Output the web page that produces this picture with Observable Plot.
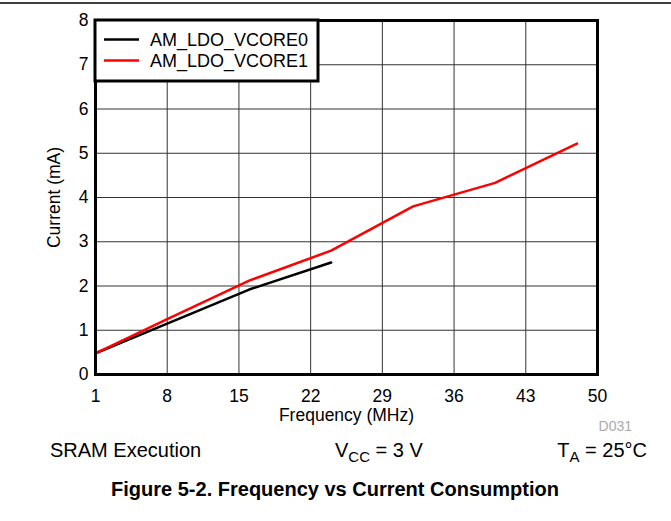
<!DOCTYPE html>
<html>
<head>
<meta charset="utf-8">
<script src="https://cdn.jsdelivr.net/npm/d3@7"></script>
<script src="https://cdn.jsdelivr.net/npm/@observablehq/plot@0.6"></script>
<style>
  html, body { margin: 0; padding: 0; background: #fff; }
  #chart svg { display: block; }
</style>
</head>
<body>
<div id="chart"></div>
<script>
// Data
const freqVcore0 = [1, 8, 16, 24];
const currentVcore0 = [0.48, 1.15, 1.92, 2.53];
const freqVcore1 = [1, 8, 16, 24, 32, 40, 48];
const currentVcore1 = [0.48, 1.25, 2.12, 2.80, 3.80, 4.33, 5.22];
const seriesNames = ["AM_LDO_VCORE0", "AM_LDO_VCORE1"];
const seriesColors = ["#000000", "#ff0000"];
const xTicks = [1, 8, 15, 22, 29, 36, 43, 50];
const yTicks = [0, 1, 2, 3, 4, 5, 6, 7, 8];

const rows = [
  ...freqVcore0.map((f, i) => ({series: seriesNames[0], freq: f, current: currentVcore0[i]})),
  ...freqVcore1.map((f, i) => ({series: seriesNames[1], freq: f, current: currentVcore1[i]}))
];

const W = 671, H = 521;
const font = "'Liberation Sans', Arial, Helvetica, sans-serif";

const chart = Plot.plot({
  width: W,
  height: H,
  marginLeft: 95,
  marginRight: 74,
  marginTop: 20,
  marginBottom: 147,
  style: {fontFamily: font, fontSize: "18px", color: "#000", background: "#fff"},
  x: {domain: [1, 50]},
  y: {domain: [0, 8]},
  color: {domain: seriesNames, range: seriesColors},
  marks: [
    Plot.gridX(xTicks, {stroke: "#333", strokeOpacity: 1, strokeWidth: 1}),
    Plot.gridY(yTicks, {stroke: "#333", strokeOpacity: 1, strokeWidth: 1}),
    Plot.axisX(xTicks, {tickSize: 0, tickPadding: 15, fontSize: 17.5, label: "Frequency (MHz)", labelAnchor: "center", labelOffset: 46, labelArrow: "none"}),
    Plot.axisY(yTicks, {tickSize: 0, tickPadding: 7, fontSize: 17.5, label: "Current (mA)", labelAnchor: "center", labelOffset: 48, labelArrow: "none"}),
    Plot.line(rows, {x: "freq", y: "current", z: "series", stroke: "series", strokeWidth: 2.5}),
    Plot.frame({stroke: "#000", strokeWidth: 3})
  ]
});

document.getElementById("chart").append(chart);

const svg = d3.select(chart);

// Top horizontal rule
svg.append("line").attr("x1", 0).attr("x2", W).attr("y1", 3).attr("y2", 3)
  .attr("stroke", "#000").attr("stroke-width", 1.5);

// Legend box
const lg = svg.append("g").attr("font-family", font).attr("font-size", 18).attr("text-anchor", "start");
lg.append("rect").attr("x", 95).attr("y", 20).attr("width", 223).attr("height", 61)
  .attr("fill", "#fff").attr("stroke", "#000").attr("stroke-width", 3);
seriesNames.forEach((name, i) => {
  const y = 39.5 + i * 21;
  lg.append("line").attr("x1", 104).attr("x2", 139).attr("y1", y).attr("y2", y)
    .attr("stroke", seriesColors[i]).attr("stroke-width", 2.5);
  lg.append("text").attr("x", 150).attr("y", y).attr("dy", "0.36em").text(name);
});

// Footnote texts
svg.append("text").attr("x", 632).attr("y", 431).attr("text-anchor", "end")
  .attr("font-family", font).attr("font-size", 14).attr("fill", "#aaa").text("D031");

const cond = svg.append("g").attr("font-family", font).attr("font-size", 20).attr("fill", "#000");
cond.append("text").attr("x", 50).attr("y", 457).attr("text-anchor", "start").text("SRAM Execution");
const vcc = cond.append("text").attr("x", 335).attr("y", 457).attr("text-anchor", "start");
vcc.append("tspan").text("V");
vcc.append("tspan").attr("font-size", 15).attr("dy", 5).text("CC");
vcc.append("tspan").attr("dy", -5).text(" = 3 V");
const ta = cond.append("text").attr("x", 647).attr("y", 457).attr("text-anchor", "end");
ta.append("tspan").text("T");
ta.append("tspan").attr("font-size", 15).attr("dy", 5).text("A");
ta.append("tspan").attr("dy", -5).text(" = 25°C");

svg.append("text").attr("x", 335).attr("y", 496).attr("text-anchor", "middle")
  .attr("font-family", font).attr("font-size", 20).attr("font-weight", "bold")
  .text("Figure 5-2. Frequency vs Current Consumption");
</script>
</body>
</html>
